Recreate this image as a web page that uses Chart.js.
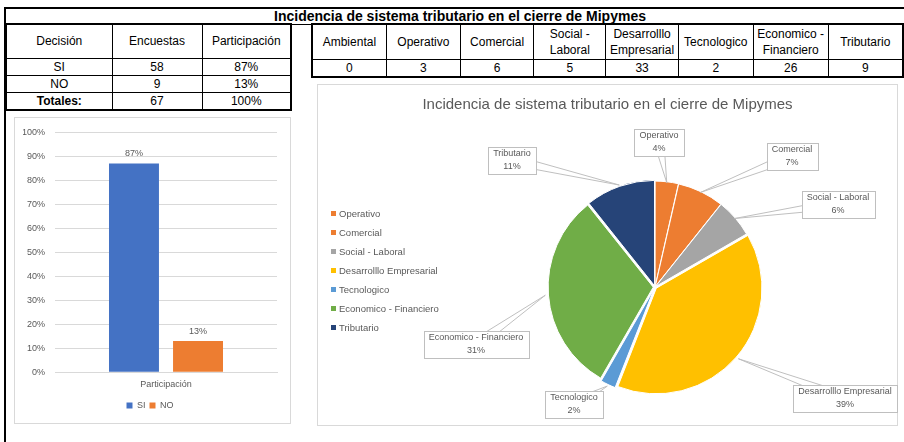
<!DOCTYPE html>
<html>
<head>
<meta charset="utf-8">
<script src="https://cdn.jsdelivr.net/npm/chart.js@4.4.1/dist/chart.umd.min.js"></script>
<style>
  body { margin: 0; width: 904px; height: 442px; overflow: hidden; position: relative; background: #fff; font-family: "Liberation Sans", Arial, sans-serif; color: #000; }
  #frameLeft { position: absolute; left: 4px; top: 7px; width: 2px; height: 440px; background: #000; }
  #sheetTitle { position: absolute; left: 4px; top: 7px; width: 912px; height: 15px; border-top: 2px solid #000; border-bottom: 1px solid #000; font-weight: bold; font-size: 14px; line-height: 15px; text-align: center; }
  table { position: absolute; border-collapse: collapse; table-layout: fixed; font-size: 12px; text-align: center; }
  td { border: 1px solid #000; padding: 0; line-height: 16px; overflow: hidden; }
  #tblDecision { left: 5px; top: 23px; border: 2px solid #000; }
  #tblFactores { left: 311px; top: 23px; border: 2px solid #000; }
  .box { position: absolute; border: 1px solid #D9D9D9; box-sizing: border-box; }
  #barBox { left: 14px; top: 117px; width: 277px; height: 307px; }
  #pieBox { left: 317px; top: 84px; width: 581px; height: 342px; }
  #barChart { position: absolute; left: 14px; top: 117px; }
  #pieChart { position: absolute; left: 317px; top: 84px; }
  #pieTitle { position: absolute; left: 317px; top: 95px; width: 581px; text-align: center; font-size: 15px; color: #595959; }
  #pieLegend { position: absolute; left: 331px; top: 204px; font-size: 9.5px; color: #595959; }
  #pieLegend div { height: 19px; line-height: 19px; white-space: nowrap; }
  #pieLegend span { display: inline-block; width: 5px; height: 5px; margin-right: 3px; vertical-align: 1px; }
</style>
</head>
<body>
<div id="frameLeft"></div>
<div id="sheetTitle"></div>
<table id="tblDecision"></table>
<table id="tblFactores"></table>
<div class="box" id="barBox"></div>
<div class="box" id="pieBox"></div>
<canvas id="barChart" width="277" height="307"></canvas>
<canvas id="pieChart" width="587" height="342"></canvas>
<div id="pieTitle"></div>
<div id="pieLegend"></div>
<script>
// Data
const sheetTitle = "Incidencia de sistema tributario en el cierre de  Mipymes";
const decisionCols = ["Decisión", "Encuestas", "Participación"];
const decisions = ["SI", "NO"];
const encuestas = [58, 9];
const participacion = [0.87, 0.13];
const totalLabel = "Totales:";
const totalEncuestas = 67;
const totalParticipacion = 1;

const factores = ["Ambiental", "Operativo", "Comercial", "Social - Laboral", "Desarrolllo Empresarial", "Tecnologico", "Economico - Financiero", "Tributario"];
const factorCounts = [0, 3, 6, 5, 33, 2, 26, 9];

const barCategory = ["Participación"];
const yTicks = [0, 0.1, 0.2, 0.3, 0.4, 0.5, 0.6, 0.7, 0.8, 0.9, 1];

// the pie starts from Operativo
const pieLabels = factores.slice(1);
const pieValues = factorCounts.slice(1);
const pieColors = ["#ED7D31", "#ED7D31", "#A5A5A5", "#FFC000", "#5B9BD5", "#70AD47", "#264478"];
const pieOffsets = [2, 2, 2, 7, 7, 7, 5];
// callout box centres, relative to the pie centre
const calloutPos = [[4, -145], [137, -131], [183, -83], [190, 111], [-81, 117], [-179, 57], [-143, -127]];

const pct = (v) => Math.round(v * 100) + "%";
const FONT = "'Liberation Sans', Arial, sans-serif";
Chart.defaults.font.family = FONT;

// Tables
document.getElementById("sheetTitle").textContent = sheetTitle;

let left = '<colgroup><col style="width:106px"><col style="width:90px"><col style="width:89px"></colgroup>';
left += '<tr style="height:34px">' + decisionCols.map((c) => `<td>${c}</td>`).join("") + "</tr>";
decisions.forEach((d, i) => {
  left += `<tr style="height:17px"><td>${d}</td><td>${encuestas[i]}</td><td>${pct(participacion[i])}</td></tr>`;
});
left += `<tr style="height:17px"><td style="font-weight:bold">${totalLabel}</td><td>${totalEncuestas}</td><td>${pct(totalParticipacion)}</td></tr>`;
document.getElementById("tblDecision").innerHTML = left;

const factorWidths = [76, 76, 75, 75, 73, 76, 76, 77];
let right = "<colgroup>" + factorWidths.map((w) => `<col style="width:${w}px">`).join("") + "</colgroup>";
right += '<tr style="height:35px">' + factores.map((f) => `<td>${f}</td>`).join("") + "</tr>";
right += '<tr style="height:17px">' + factorCounts.map((v) => `<td>${v}</td>`).join("") + "</tr>";
document.getElementById("tblFactores").innerHTML = right;

// Bar chart
const barLabels = {
  id: "barLabels",
  afterDatasetsDraw(chart) {
    const ctx = chart.ctx;
    ctx.save();
    ctx.font = "9px " + FONT;
    ctx.fillStyle = "#595959";
    ctx.textAlign = "center";
    ctx.textBaseline = "middle";
    chart.data.datasets.forEach((ds, i) => {
      chart.getDatasetMeta(i).data.forEach((bar, j) => {
        ctx.fillText(pct(ds.data[j]), bar.x, bar.y - 10);
      });
    });
    ctx.restore();
  },
};

new Chart(document.getElementById("barChart"), {
  type: "bar",
  data: {
    labels: barCategory,
    datasets: [
      { label: decisions[0], data: [participacion[0]], backgroundColor: "#4472C4" },
      { label: decisions[1], data: [participacion[1]], backgroundColor: "#ED7D31" },
    ],
  },
  options: {
    responsive: false,
    animation: false,
    categoryPercentage: 0.577,
    barPercentage: 0.78,
    layout: { padding: { left: 9, right: 14, top: 14, bottom: 4 } },
    scales: {
      y: {
        min: 0,
        max: 1,
        afterBuildTicks: (scale) => { scale.ticks = yTicks.map((v) => ({ value: v })); },
        afterFit: (scale) => { scale.width = 32; },
        ticks: { callback: (v) => pct(v), color: "#595959", font: { size: 9 }, padding: 10 },
        grid: { color: "#D9D9D9", drawTicks: false },
        border: { display: false },
      },
      x: {
        grid: { display: false, drawTicks: false },
        border: { color: "#D9D9D9" },
        ticks: { color: "#595959", font: { size: 9 }, padding: 7 },
      },
    },
    plugins: {
      legend: {
        position: "bottom",
        labels: { boxWidth: 6, boxHeight: 6, color: "#595959", font: { size: 9 }, padding: 4 },
      },
      tooltip: { enabled: false },
    },
  },
  plugins: [barLabels],
});

// Pie chart
document.getElementById("pieTitle").textContent = sheetTitle;
document.getElementById("pieLegend").innerHTML = pieLabels
  .map((l, i) => `<div><span style="background:${pieColors[i]}"></span>${l}</div>`)
  .join("");

const callouts = {
  id: "callouts",
  afterDatasetsDraw(chart) {
    const ctx = chart.ctx;
    const meta = chart.getDatasetMeta(0);
    const total = pieValues.reduce((a, b) => a + b, 0);
    ctx.save();
    ctx.font = "9px " + FONT;
    ctx.lineWidth = 1;
    meta.data.forEach((arc, i) => {
      const { x, y, startAngle, endAngle, outerRadius } = arc.getProps(["x", "y", "startAngle", "endAngle", "outerRadius"], true);
      const mid = (startAngle + endAngle) / 2;
      const tipR = outerRadius + pieOffsets[i] - 2;
      const tx = x + Math.cos(mid) * tipR;
      const ty = y + Math.sin(mid) * tipR;
      const bx = x + calloutPos[i][0];
      const by = y + calloutPos[i][1];
      const line1 = pieLabels[i];
      const line2 = Math.round((pieValues[i] / total) * 100) + "%";
      const w = Math.ceil(Math.max(ctx.measureText(line1).width, ctx.measureText(line2).width)) + 10;
      const h = 27;
      const ang = Math.atan2(ty - by, tx - bx);
      const px = -Math.sin(ang) * 5;
      const py = Math.cos(ang) * 5;
      ctx.beginPath();
      ctx.moveTo(bx + px, by + py);
      ctx.lineTo(tx, ty);
      ctx.lineTo(bx - px, by - py);
      ctx.closePath();
      ctx.fillStyle = "#fff";
      ctx.fill();
      ctx.strokeStyle = "#BFBFBF";
      ctx.stroke();
      const bl = Math.round(bx - w / 2) + 0.5;
      const bt = Math.round(by - h / 2) + 0.5;
      ctx.fillRect(bl, bt, w, h);
      ctx.strokeRect(bl, bt, w, h);
      ctx.fillStyle = "#595959";
      ctx.textAlign = "center";
      ctx.textBaseline = "middle";
      ctx.fillText(line1, bx, by - 6);
      ctx.fillText(line2, bx, by + 7);
    });
    ctx.restore();
  },
};

new Chart(document.getElementById("pieChart"), {
  type: "pie",
  data: {
    labels: pieLabels,
    datasets: [
      {
        data: pieValues,
        backgroundColor: pieColors,
        borderColor: "#fff",
        borderWidth: 1,
        offset: pieOffsets,
        radius: 105,
      },
    ],
  },
  options: {
    responsive: false,
    animation: false,
    layout: { padding: { left: 150, right: 61, top: 70, bottom: 6 } },
    plugins: { legend: { display: false }, tooltip: { enabled: false } },
  },
  plugins: [callouts],
});
</script>
</body>
</html>
